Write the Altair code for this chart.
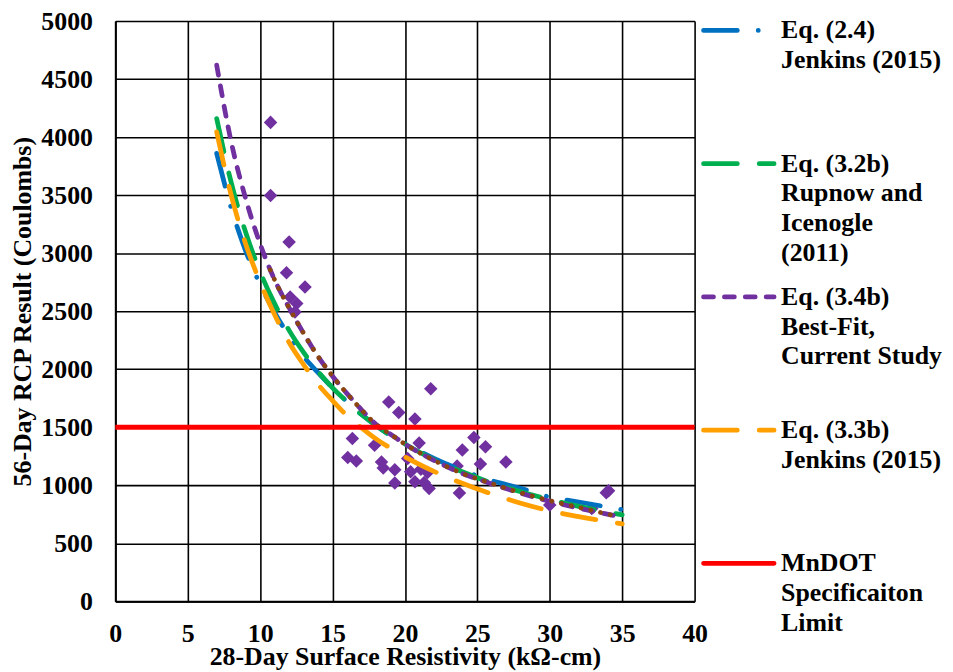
import altair as alt
import pandas as pd

# ---------------- data ----------------
# measured points: 28-day surface resistivity (kOhm-cm) vs 56-day RCP (C)
RES_X = [10.72, 10.72, 12.0, 11.82, 13.1, 12.07, 12.53, 12.41, 21.78, 18.88,
         19.57, 20.69, 16.37, 17.9, 20.98, 24.76, 25.56, 23.96, 26.97, 25.21,
         16.05, 16.64, 18.38, 18.5, 19.3, 20.19, 20.39, 21.1, 21.56, 19.3,
         20.69, 21.33, 21.67, 23.76, 23.6, 30.0, 32.9, 34.06, 33.9]
RCP_Y = [4127, 3496, 3097, 2831, 2708, 2622, 2566, 2494, 1832, 1718,
         1627, 1572, 1404, 1344, 1365, 1412, 1333, 1304, 1201, 1184,
         1239, 1210, 1200, 1148, 1133, 1230, 1117, 1139, 1110, 1019,
         1030, 1025, 973, 933, 1167, 830, 800, 953, 935]

# equation curves
EQ_X = [7, 8, 9, 10, 11, 12, 13, 14, 15, 16, 17, 18, 19, 20, 22, 24, 26, 28, 30, 32, 35]
EQ_2_4 = [3860, 3390, 3020, 2730, 2490, 2285, 2110, 1970, 1840, 1720, 1610, 1515, 1430,
          1360, 1232, 1127, 1040, 974, 898, 856, 790]
EQ_3_2B = [4160, 3610, 3180, 2840, 2565, 2335, 2145, 1980, 1840, 1720, 1610, 1515, 1430,
           1355, 1220, 1115, 1020, 945, 877, 818, 745]
EQ_3_4B = [4620, 3960, 3470, 3080, 2770, 2530, 2310, 2110, 1940, 1790, 1650, 1525, 1440,
           1355, 1215, 1100, 1012, 932, 862, 803, 726]
EQ_3_3B = [4045, 3500, 3080, 2750, 2470, 2230, 2040, 1870, 1730, 1600, 1495, 1400, 1320,
           1245, 1120, 1015, 925, 845, 780, 730, 668]

# trendline through the measured points
TREND_X = [10.7, 11, 12, 13, 14, 15, 16, 17, 18, 19, 20, 22, 24, 26, 28, 30, 32, 34.2]
TREND_Y = [2855, 2770, 2530, 2310, 2110, 1940, 1790, 1650, 1525, 1440, 1355, 1215, 1100,
           1015, 935, 868, 810, 745]

LIMIT = 1500

X_TICKS = [0, 5, 10, 15, 20, 25, 30, 35, 40]
Y_TICKS = [0, 500, 1000, 1500, 2000, 2500, 3000, 3500, 4000, 4500, 5000]

LEGEND_LABELS = [
    "Eq. (2.4)\nJenkins (2015)",
    "Eq. (3.2b)\nRupnow and\nIcenogle\n(2011)",
    "Eq. (3.4b)\nBest-Fit,\nCurrent Study",
    "Eq. (3.3b)\nJenkins (2015)",
    "MnDOT\nSpecificaiton\nLimit",
]

# ---------------- styles / layout ----------------
FONT = "Liberation Serif"
BLUE, GREEN, PURPLE, ORANGE, RED, BROWN = "#0070C0", "#00B050", "#7030A0", "#FFA000", "#FF0000", "#8B4513"
DASH_BLUE = [34, 21, 0.1, 21]
DASH_LONG = [34, 22]
DASH_PURPLE = [10, 11]
DASH_DOT = [0.1, 10]
LW = 4.8

W, H = 583, 584
PAD = {"left": 108, "top": 11, "right": 252, "bottom": 74}

x_enc = alt.X("x:Q", scale=alt.Scale(domain=[0, 40], nice=False),
              axis=alt.Axis(values=X_TICKS, format="d", labelFlush=False,
                            title="28-Day Surface Resistivity (kΩ-cm)"))
y_enc = alt.Y("y:Q", scale=alt.Scale(domain=[0, 5000], nice=False),
              axis=alt.Axis(values=Y_TICKS, format="d", title="56-Day RCP Result (Coulombs)"))

pts = pd.DataFrame({"x": RES_X, "y": RCP_Y})
points = alt.Chart(pts).mark_point(shape="diamond", filled=True, size=185,
                                   color=PURPLE, opacity=1).encode(x=x_enc, y=y_enc)


def curve(xs, ys, color, dash):
    df = pd.DataFrame({"x": xs, "y": ys})
    return alt.Chart(df).mark_line(color=color, strokeWidth=LW, strokeDash=dash,
                                   strokeCap="round", interpolate="monotone").encode(x=x_enc, y=y_enc)


blue = curve(EQ_X, EQ_2_4, BLUE, DASH_BLUE)
green = curve(EQ_X, EQ_3_2B, GREEN, DASH_LONG)
purple = curve(EQ_X, EQ_3_4B, PURPLE, DASH_PURPLE)
orange = curve(EQ_X, EQ_3_3B, ORANGE, DASH_LONG)
brown = curve(TREND_X, TREND_Y, BROWN, DASH_DOT)

limit = alt.Chart(pd.DataFrame({"y": [LIMIT]})).mark_rule(color=RED, strokeWidth=5).encode(y=y_enc)

main = alt.layer(points, blue, green, purple, orange, brown, limit)

# ---------------- legend (to the right of the plot area) ----------------
LEG_COLORS = [BLUE, GREEN, PURPLE, ORANGE, RED]
LEG_DASHES = [DASH_BLUE, DASH_LONG, DASH_PURPLE, DASH_LONG, [1, 0]]
# legend layout in plot-width units (0 .. W is the plot area)
LINE_START, LINE_END, TEXT_X = 592, 663, 670

leg_y = alt.Y("row:Q", scale=alt.Scale(domain=[-0.0701, 4.285], nice=False, zero=False, reverse=True), axis=None)
leg_x_scale = alt.Scale(domain=[0, W], nice=False, zero=False)

leg_layers = []
for i, (lab, col, dash) in enumerate(zip(LEGEND_LABELS, LEG_COLORS, LEG_DASHES)):
    df = pd.DataFrame({"row": [i], "x1": [LINE_START], "x2": [LINE_END], "tx": [TEXT_X], "label": [lab]})
    leg_layers.append(
        alt.Chart(df).mark_rule(color=col, strokeWidth=LW, strokeDash=dash, strokeCap="round").encode(
            x=alt.X("x1:Q", scale=leg_x_scale, axis=None), x2="x2:Q", y=leg_y)
    )
    leg_layers.append(
        alt.Chart(df).mark_text(align="left", baseline="top", dy=-13, lineBreak="\n", lineHeight=30,
                                font=FONT, fontSize=26, fontWeight="bold", color="black").encode(
            x=alt.X("tx:Q", scale=leg_x_scale, axis=None), y=leg_y, text="label:N")
    )

legend = alt.layer(*leg_layers)

chart = alt.layer(main, legend).resolve_scale(x="independent", y="independent").properties(
    width=W, height=H,
    autosize=alt.AutoSizeParams(type="none"),
    padding=PAD,
).configure_view(stroke="transparent").configure_axis(
    labelFont=FONT, labelFontSize=26, labelFontWeight="bold", labelColor="black",
    titleFont=FONT, titleFontSize=26, titleFontWeight="bold", titleColor="black",
    gridColor="black", gridWidth=1.6, gridOpacity=1, domainColor="black", domainWidth=2,
    ticks=False,
).configure_axisX(labelPadding=19, titlePadding=-2).configure_axisY(labelPadding=23, titlePadding=5)

chart.save("out.html", embed_options={"renderer": "svg", "actions": False})
